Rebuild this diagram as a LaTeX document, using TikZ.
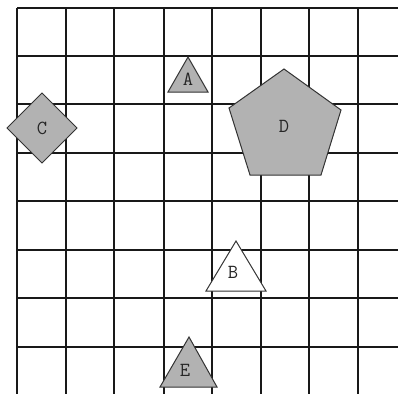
\documentclass[tikz,border=0pt]{standalone}
\begin{document}
\begin{tikzpicture}[x=1pt,y=-1pt,
  gridline/.style={line width=2pt,black!90},
  shapeedge/.style={line width=1pt,black!80,line join=miter},
  grayfill/.style={shapeedge,fill=black!30},
  whitefill/.style={shapeedge,fill=white},
  lbl/.style={font=\ttfamily\fontsize{20}{20}\selectfont,inner sep=0pt,text=black!85}]
\useasboundingbox (0,0) rectangle (398,394);
\fill[white] (0,0) rectangle (398,394);
% grid
\foreach \x in {17,66,114,164,212,261,309,358} \draw[gridline] (\x,8) -- (\x,394);
\foreach \y in {8,56,104,153,201,250,298,347} \draw[gridline] (17,\y) -- (398,\y);
% A
\filldraw[grayfill] (188,57) -- (208,92) -- (168,92) -- cycle;
\node[lbl] (A) at (188,79) {A};
% C
\filldraw[grayfill] (42,93) -- (77,128) -- (42,163) -- (7,128) -- cycle;
\node[lbl] (C) at (42,128) {C};
% D
\filldraw[grayfill] (284,69) -- (341,110) -- (321,175) -- (250,175) -- (229,108) -- cycle;
\node[lbl] (D) at (284,126) {D};
% B
\filldraw[whitefill] (236,241) -- (266,291) -- (206,291) -- cycle;
\node[lbl] (B) at (233,272) {B};
% E
\filldraw[grayfill] (189,337) -- (217,387) -- (160,387) -- cycle;
\node[lbl] (E) at (185,370) {E};
\end{tikzpicture}
\end{document}
